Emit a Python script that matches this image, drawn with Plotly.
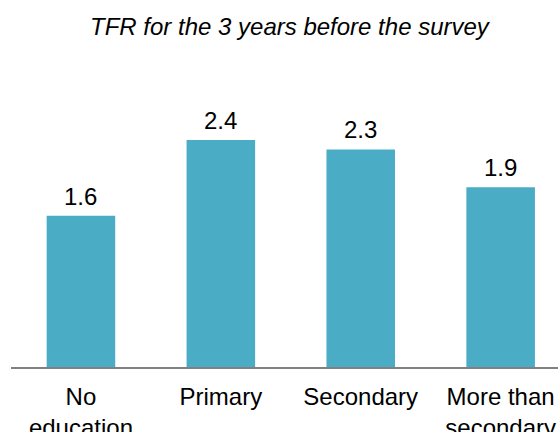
import plotly.graph_objects as go

# TFR by education level
categories = ["No<br>education", "Primary", "Secondary", "More than<br>secondary"]
tfr_values = [1.6, 2.4, 2.3, 1.9]
value_labels = ["1.6", "2.4", "2.3", "1.9"]

fig = go.Figure()
fig.add_trace(go.Bar(
    x=categories, y=tfr_values,
    marker=dict(color="#4BACC6", line=dict(width=0)),
    width=0.49,
))

# value labels above the bars
for cat, val, lab in zip(categories, tfr_values, value_labels):
    fig.add_annotation(
        x=cat, y=val, text=lab, xref="x", yref="y",
        xanchor="center", yanchor="bottom", showarrow=False,
        yshift=4, font=dict(size=24, color="#000000"),
    )

# title is centred over the (partly off-screen) plot area
fig.add_annotation(
    text="<i>TFR for the 3 years before the survey</i>",
    xref="paper", yref="paper", x=(290 - 10.5) / 547.5, y=1 + 33 / 306.7,
    xanchor="center", yanchor="middle", showarrow=False,
    font=dict(size=24),
)

fig.update_layout(
    width=558, height=432,
    margin=dict(l=10.5, r=0, t=60, b=65.3, autoexpand=False),
    plot_bgcolor="white", paper_bgcolor="white",
    font=dict(family="Liberation Sans, Arial, sans-serif", size=24, color="#000000"),
    showlegend=False,
    xaxis=dict(
        range=[-0.5, 3.41], showline=True, linecolor="#808080", linewidth=2,
        showgrid=False, ticks="outside", ticklen=7, tickcolor="rgba(0,0,0,0)",
        tickfont=dict(size=24), automargin=False,
    ),
    yaxis=dict(range=[0, 3.245], visible=False),
)

# drop the default 8px body margin so the figure fills the window
fig.write_html(
    "out.html",
    config={"displayModeBar": False},
    post_script="document.body.style.margin='0';",
)
